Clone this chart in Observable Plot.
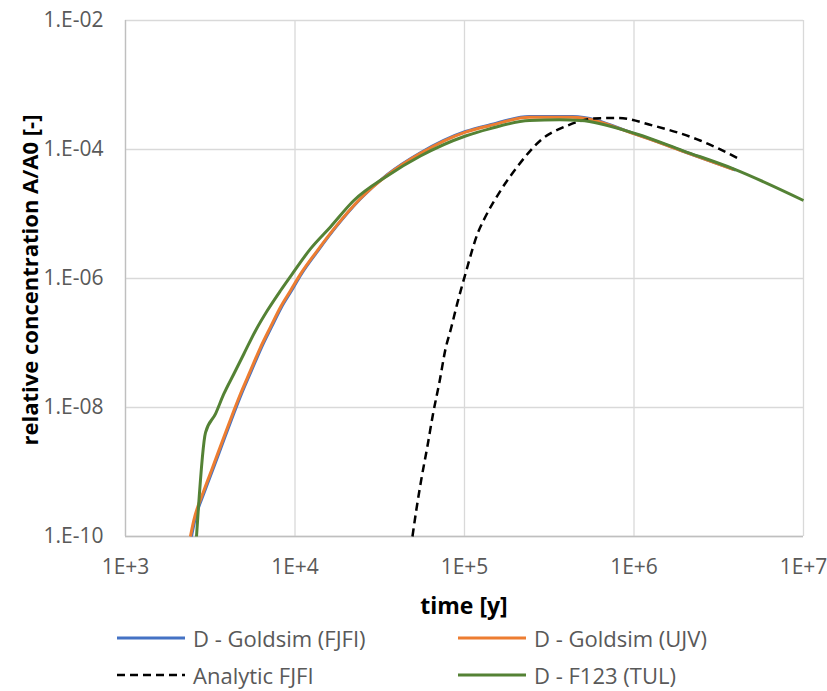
<!DOCTYPE html>
<html>
<head>
<meta charset="utf-8">
<script src="https://cdn.jsdelivr.net/npm/d3@7"></script>
<script src="https://cdn.jsdelivr.net/npm/@observablehq/plot@0.6"></script>
<style>
  body { margin: 0; background: #fff; font-family: "Open Sans", sans-serif; }
  #chart { position: relative; width: 827px; height: 691px; overflow: hidden; }
  #chart > svg { position: absolute; left: 0; top: 0; }
  .title { position: absolute; font-weight: bold; color: #000; white-space: nowrap; }
  .ytitle { font-size: 22px; transform: translate(-50%, -50%) rotate(-90deg); }
  .xtitle { font-size: 23px; transform: translate(-50%, -50%); }
  .item { position: absolute; display: flex; align-items: center; font-size: 22px; color: #595959; white-space: nowrap; transform: translateY(-50%); }
  .item svg { margin-right: 8px; }
</style>
</head>
<body>
<div id="chart"></div>
<script>
// Breakthrough of radionuclide D: relative concentration vs time, four model runs.
const fjfiTime = [2449, 2564, 2938, 3289, 3855, 4416, 4831, 5534, 6339, 7261, 8318, 9528, 10890, 13650, 17460, 24430, 34990, 54950, 101400, 140300, 241500, 433500, 1.035e6, 1.95e6, 3.98e6];
const fjfiConc = [1.0e-10, 1.78e-10, 5.1e-10, 1.12e-9, 3.47e-9, 8.9e-9, 1.62e-8, 3.72e-8, 8.5e-8, 1.76e-7, 3.59e-7, 6.46e-7, 1.17e-6, 2.69e-6, 6.31e-6, 1.74e-5, 4.07e-5, 8.9e-5, 1.90e-4, 2.40e-4, 3.24e-4, 3.24e-4, 1.72e-4, 9.4e-5, 4.8e-5];

const ujvTime = [2415, 2529, 2897, 3243, 3802, 4355, 4764, 5458, 6252, 7161, 8204, 9397, 10770, 13520, 17340, 24320, 34990, 54950, 101400, 140300, 241500, 433500, 1.035e6, 1.95e6, 3.88e6];
const ujvConc = [1.0e-10, 1.78e-10, 5.1e-10, 1.12e-9, 3.47e-9, 8.9e-9, 1.62e-8, 3.72e-8, 8.5e-8, 1.76e-7, 3.59e-7, 6.46e-7, 1.17e-6, 2.69e-6, 6.31e-6, 1.74e-5, 3.98e-5, 8.7e-5, 1.86e-4, 2.34e-4, 3.16e-4, 3.16e-4, 1.70e-4, 9.33e-5, 4.9e-5];

const analyticTime = [49320, 51880, 55720, 60260, 65010, 71450, 77270, 83180, 90570, 100500, 121300, 129400, 162900, 204600, 280500, 403600, 576800, 794300, 1.303e6, 2.455e6, 4.14e6];
const analyticConc = [1.0e-10, 2.5e-10, 7.9e-10, 2.4e-9, 7.6e-9, 2.63e-8, 8.1e-8, 1.66e-7, 4.07e-7, 1.1e-6, 5.5e-6, 7.9e-6, 2.29e-5, 5.37e-5, 1.38e-4, 2.34e-4, 3.02e-4, 3.09e-4, 2.34e-4, 1.38e-4, 7.24e-5];

const tulTime = [2624, 2965, 3396, 3802, 4355, 4989, 5848, 6855, 8204, 9616, 12330, 16180, 22230, 34990, 54950, 101400, 140300, 241500, 363100, 483100, 1.035e6, 1.95e6, 3.864e6, 1.0e7];
const tulConc = [1.0e-10, 4.07e-9, 7.94e-9, 1.62e-8, 3.31e-8, 6.76e-8, 1.55e-7, 3.16e-7, 6.46e-7, 1.17e-6, 2.88e-6, 6.31e-6, 1.62e-5, 3.89e-5, 7.94e-5, 1.62e-4, 2.09e-4, 2.82e-4, 2.88e-4, 2.82e-4, 1.74e-4, 9.55e-5, 5.01e-5, 1.62e-5];

const seriesNames = ["D - Goldsim (FJFI)", "D - Goldsim (UJV)", "Analytic FJFI", "D - F123 (TUL)"];
const seriesColors = ["#4472c4", "#ed7d31", "#000000", "#548235"];

const xTicks = [1e3, 1e4, 1e5, 1e6, 1e7];
const xTickLabels = ["1E+3", "1E+4", "1E+5", "1E+6", "1E+7"];
const yTicks = [1e-10, 1e-8, 1e-6, 1e-4, 1e-2];
const yTickLabels = ["1.E-10", "1.E-08", "1.E-06", "1.E-04", "1.E-02"];

const xTitle = "time [y]";
const yTitle = "relative concentration A/A0 [-]";

const toRows = (ts, cs) => ts.map((t, i) => ({t, c: cs[i]}));
const series = [
  toRows(fjfiTime, fjfiConc),
  toRows(ujvTime, ujvConc),
  toRows(analyticTime, analyticConc),
  toRows(tulTime, tulConc)
];

const lineMark = (k, extra = {}) => Plot.line(series[k], {
  x: "t", y: "c", stroke: seriesColors[k], strokeWidth: 3,
  curve: "monotone-x", strokeLinejoin: "round", strokeLinecap: "butt", ...extra
});

const chart = Plot.plot({
  width: 827,
  height: 620,
  marginTop: 20,
  marginLeft: 125,
  marginRight: 24,
  marginBottom: 84,
  style: {fontFamily: "Open Sans, sans-serif", fontSize: "21px", color: "#595959", background: "transparent"},
  x: {type: "log", domain: [1e3, 1e7]},
  y: {type: "log", domain: [1e-10, 1e-2]},
  marks: [
    Plot.gridX(xTicks, {stroke: "#d9d9d9", strokeOpacity: 1, strokeWidth: 1.3}),
    Plot.gridY(yTicks, {stroke: "#d9d9d9", strokeOpacity: 1, strokeWidth: 1.3}),
    Plot.ruleX([1e3], {stroke: "#bfbfbf", strokeWidth: 1.3}),
    Plot.ruleY([1e-10], {stroke: "#bfbfbf", strokeWidth: 1.3}),
    Plot.axisX(xTicks, {tickFormat: d => xTickLabels[xTicks.indexOf(d)], tickSize: 0, tickPadding: 23, label: null, fill: "#595959"}),
    Plot.axisY(yTicks, {tickFormat: d => yTickLabels[yTicks.indexOf(d)], tickSize: 0, tickPadding: 22, label: null, fill: "#595959"}),
    lineMark(0),
    lineMark(1),
    lineMark(2, {strokeWidth: 2.5, strokeDasharray: "8,5"}),
    lineMark(3)
  ]
});

const root = document.getElementById("chart");
root.appendChild(chart);

// axis titles
const yt = document.createElement("div");
yt.className = "title ytitle";
yt.style.left = "29px";
yt.style.top = "280px";
yt.textContent = yTitle;
root.appendChild(yt);

const xt = document.createElement("div");
xt.className = "title xtitle";
xt.style.left = "464px";
xt.style.top = "605px";
xt.textContent = xTitle;
root.appendChild(xt);

// legend: two columns, two rows
const legendPos = [[117, 638], [458, 638], [117, 675], [458, 675]];
seriesNames.forEach((name, k) => {
  const item = document.createElement("div");
  item.className = "item";
  item.style.left = legendPos[k][0] + "px";
  item.style.top = legendPos[k][1] + "px";
  const dash = k === 2 ? ' stroke-dasharray="8,5" stroke-width="2.5"' : ' stroke-width="3"';
  item.innerHTML = `<svg width="68" height="10"><line x1="0" y1="5" x2="68" y2="5" stroke="${seriesColors[k]}"${dash}/></svg>`;
  const label = document.createElement("span");
  label.textContent = name;
  item.appendChild(label);
  root.appendChild(item);
});
</script>
</body>
</html>
